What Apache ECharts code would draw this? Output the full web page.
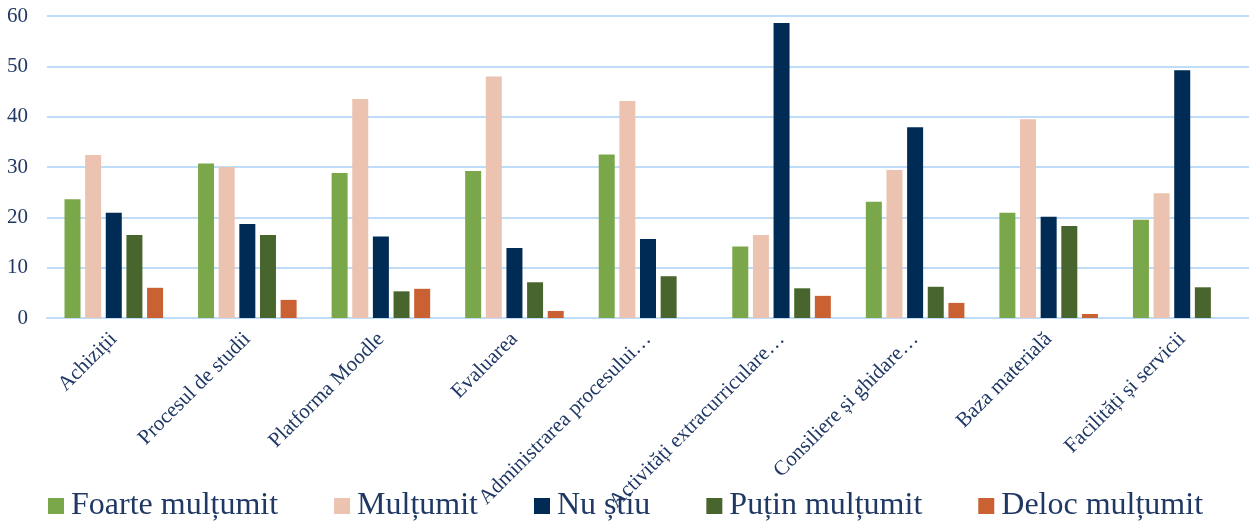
<!DOCTYPE html>
<html>
<head>
<meta charset="utf-8">
<script src="https://cdn.jsdelivr.net/npm/echarts@6/dist/echarts.min.js"></script>
<style>
  html, body { margin: 0; padding: 0; background: #fff; }
  #chart { width: 1249px; height: 522px; }
</style>
</head>
<body>
<div id="chart"></div>
<script>
var categories = ['Achiziții', 'Procesul de studii', 'Platforma Moodle', 'Evaluarea',
  'Administrarea procesului…', 'Activități extracurriculare…', 'Consiliere și ghidare…',
  'Baza materială', 'Facilități și servicii'];

var seriesNames = ['Foarte mulțumit', 'Mulțumit', 'Nu știu', 'Puțin mulțumit', 'Deloc mulțumit'];

var foarteMultumit = [23.6, 30.7, 28.8, 29.2, 32.5, 14.2, 23.1, 20.9, 19.5];
var multumit = [32.4, 30.0, 43.5, 48.0, 43.1, 16.5, 29.4, 39.5, 24.8];
var nuStiu = [20.9, 18.7, 16.2, 13.9, 15.7, 58.6, 37.9, 20.1, 49.2];
var putinMultumit = [16.5, 16.5, 5.3, 7.1, 8.3, 5.9, 6.2, 18.3, 6.1];
var delocMultumit = [6.0, 3.6, 5.8, 1.4, 0, 4.4, 3.0, 0.8, 0];

var yTicks = { min: 0, max: 60, interval: 10 };

var colors = ['#7BA74B', '#ECC2B0', '#002B55', '#49652E', '#C96133'];
var textColor = '#1F3864';
var gridColor = '#BFDDF8';
var font = 'Liberation Serif';

var values = [foarteMultumit, multumit, nuStiu, putinMultumit, delocMultumit];

let series = seriesNames.map(function(name, i){
  return {
    name: name,
    type: 'bar',
    data: values[i],
    barWidth: 16,
    barGap: '29%'
  };
});

let option = {
  animation: false,
  color: colors,
  grid: {
    left: 47,
    right: -7,
    top: 16,
    bottom: 204
  },
  legend: {
    left: 43,
    top: 484,
    itemWidth: 16,
    itemHeight: 16,
    itemGap: 56,
    icon: 'rect',
    textStyle: {
      fontFamily: font,
      fontSize: 32,
      lineHeight: 34,
      color: textColor,
      padding: [0, 0, 0, 2]
    },
    data: seriesNames
  },
  xAxis: {
    type: 'category',
    data: categories,
    axisLine: { lineStyle: { color: gridColor, width: 2 } },
    axisTick: { show: false },
    axisLabel: {
      interval: 0,
      rotate: 45,
      margin: 18,
      fontFamily: font,
      fontSize: 21,
      color: textColor
    }
  },
  yAxis: {
    type: 'value',
    min: yTicks.min,
    max: yTicks.max,
    interval: yTicks.interval,
    axisLine: { show: false },
    axisTick: { show: false },
    splitLine: { lineStyle: { color: gridColor, width: 2 } },
    axisLabel: {
      margin: 19,
      fontFamily: font,
      fontSize: 21,
      color: textColor
    }
  },
  series: series
};

let myChart = echarts.init(document.getElementById('chart'));
myChart.setOption(option);
</script>
</body>
</html>
